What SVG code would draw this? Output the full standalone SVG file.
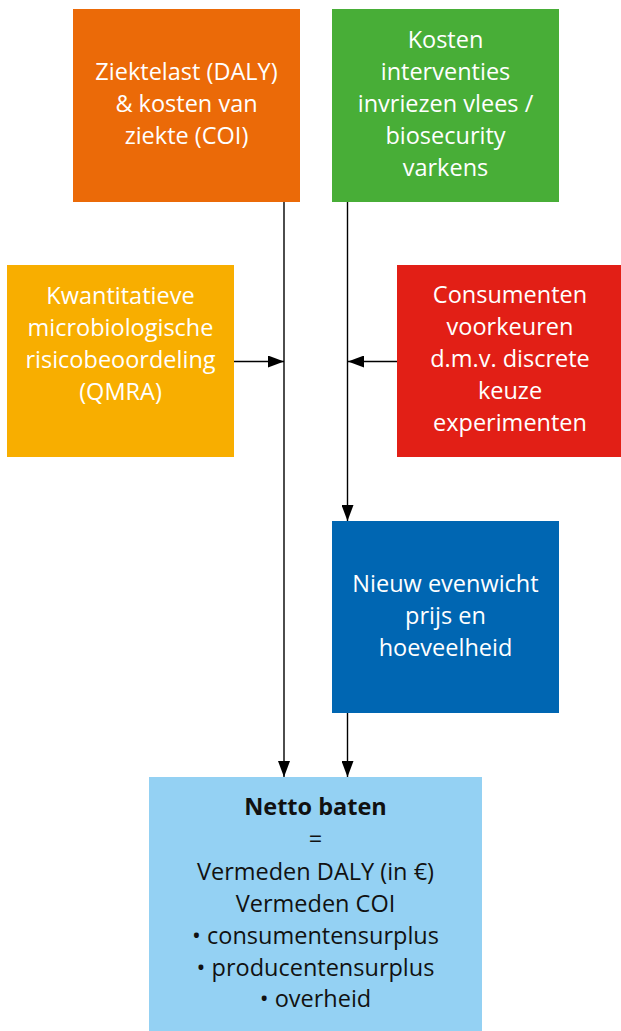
<svg xmlns="http://www.w3.org/2000/svg" width="621" height="1031" viewBox="0 0 621 1031">
<style>
.t{font-family:"Open Sans","Noto Sans",sans-serif;font-size:23.5px;text-anchor:middle;fill:#ffffff}
.d{fill:#111111}
.b{font-weight:bold}
.c{stroke:#000;stroke-width:1.4;fill:none}
</style>
<defs>
<marker id="ah" markerUnits="userSpaceOnUse" markerWidth="16" markerHeight="12" refX="16" refY="6" orient="auto">
<polygon points="0,0 16,6 0,12" fill="#000"/>
</marker>
</defs>
<rect width="621" height="1031" fill="#fff"/>
<g id="connectors">
<line class="c" x1="284" y1="202" x2="284" y2="777" marker-end="url(#ah)"/>
<line class="c" x1="347.5" y1="202" x2="347.5" y2="521" marker-end="url(#ah)"/>
<line class="c" x1="347.5" y1="713" x2="347.5" y2="777" marker-end="url(#ah)"/>
<line class="c" x1="234" y1="361.5" x2="284" y2="361.5" marker-end="url(#ah)"/>
<line class="c" x1="397" y1="361.5" x2="348" y2="361.5" marker-end="url(#ah)"/>
</g>
<g id="ziektelast">
<rect x="73" y="9" width="227" height="193" fill="#EB6A08"/>
<text class="t" x="186.5" y="80">Ziektelast (DALY)</text>
<text class="t" x="186.5" y="112">&amp; kosten van</text>
<text class="t" x="186.5" y="144">ziekte (COI)</text>
</g>
<g id="kosten">
<rect x="332" y="9" width="227" height="193" fill="#48AE37"/>
<text class="t" x="445.5" y="48">Kosten</text>
<text class="t" x="445.5" y="80">interventies</text>
<text class="t" x="445.5" y="112">invriezen vlees /</text>
<text class="t" x="445.5" y="144">biosecurity</text>
<text class="t" x="445.5" y="176">varkens</text>
</g>
<g id="qmra">
<rect x="7" y="265" width="227" height="192" fill="#F8AE00"/>
<text class="t" x="120.5" y="304">Kwantitatieve</text>
<text class="t" x="120.5" y="336">microbiologische</text>
<text class="t" x="120.5" y="368">risicobeoordeling</text>
<text class="t" x="120.5" y="400">(QMRA)</text>
</g>
<g id="consumenten">
<rect x="397" y="265" width="224" height="192" fill="#E21F16"/>
<text class="t" x="510" y="303">Consumenten</text>
<text class="t" x="510" y="335">voorkeuren</text>
<text class="t" x="510" y="367">d.m.v. discrete</text>
<text class="t" x="510" y="399">keuze</text>
<text class="t" x="510" y="431">experimenten</text>
</g>
<g id="evenwicht">
<rect x="332" y="521" width="227" height="192" fill="#0066B2"/>
<text class="t" x="445.5" y="592">Nieuw evenwicht</text>
<text class="t" x="445.5" y="624">prijs en</text>
<text class="t" x="445.5" y="656">hoeveelheid</text>
</g>
<g id="netto">
<rect x="149" y="777" width="333" height="254" fill="#94D1F3"/>
<text class="t d b" x="315.5" y="815">Netto baten</text>
<text class="t d" x="315.5" y="847">=</text>
<text class="t d" x="315.5" y="880">Vermeden DALY (in €)</text>
<text class="t d" x="315.5" y="912">Vermeden COI</text>
<text class="t d" x="315.5" y="944">• consumentensurplus</text>
<text class="t d" x="315.5" y="976">• producentensurplus</text>
<text class="t d" x="315.5" y="1007">• overheid</text>
</g>
</svg>
